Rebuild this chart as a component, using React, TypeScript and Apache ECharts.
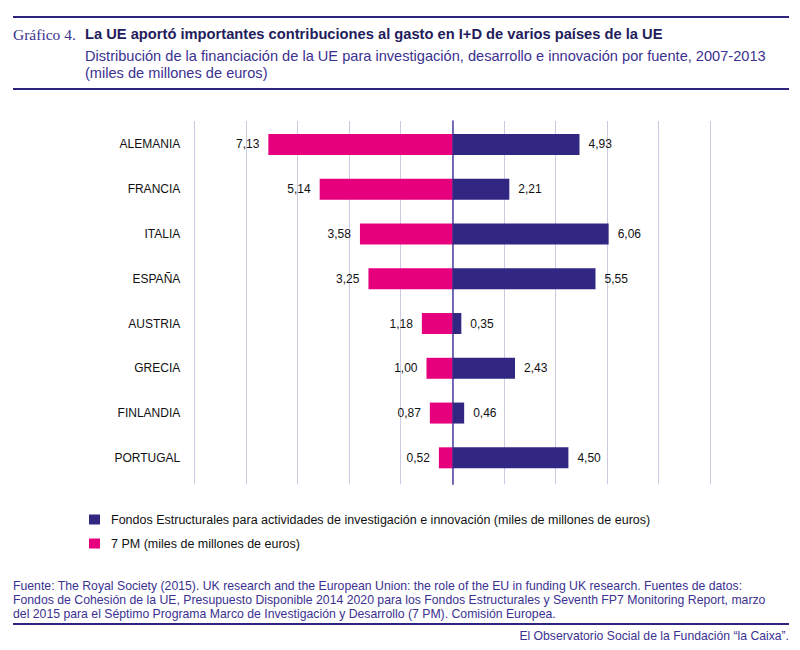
import { useEffect, useRef } from 'react';
import * as echarts from 'echarts';

const countries = ['ALEMANIA', 'FRANCIA', 'ITALIA', 'ESPAÑA', 'AUSTRIA', 'GRECIA', 'FINLANDIA', 'PORTUGAL'];
const fondosEstructurales = [4.93, 2.21, 6.06, 5.55, 0.35, 2.43, 0.46, 4.5];
const septimoPM = [7.13, 5.14, 3.58, 3.25, 1.18, 1.0, 0.87, 0.52];

const seriesNames = [
  'Fondos Estructurales para actividades de investigación e innovación (miles de millones de euros)',
  '7 PM (miles de millones de euros)',
];

const sourceLines = [
  'Fuente: The Royal Society (2015). UK research and the European Union: the role of the EU in funding UK research. Fuentes de datos:',
  'Fondos de Cohesión de la UE, Presupuesto Disponible 2014 2020 para los Fondos Estructurales y Seventh FP7 Monitoring Report, marzo',
  'del 2015 para el Séptimo Programa Marco de Investigación y Desarrollo (7 PM). Comisión Europea.',
];

const NAVY = '#312783';
const PINK = '#e6007e';
const INK = '#2e2580';
const FONT = "'Liberation Sans', Arial, sans-serif";

const fmt = (v: number) => Math.abs(v).toFixed(2).replace('.', ',');

export default function App() {
  const chartRef = useRef<HTMLDivElement>(null);

  useEffect(() => {
    if (!chartRef.current) return;
    const chart = echarts.init(chartRef.current, null, { renderer: 'svg' });

    const option: echarts.EChartsOption = {
      animation: false,
      backgroundColor: '#ffffff',
      textStyle: { fontFamily: FONT },
      grid: [
        { left: 194.3, right: 89.7, top: 122.1, height: 358.1 },
        { left: 194.3, right: 89.7, top: 121, height: 363.3 },
      ],
      xAxis: [
        { type: 'value', gridIndex: 0, min: -10, max: 10, interval: 2, show: false },
        {
          type: 'value',
          gridIndex: 1,
          min: -10,
          max: 10,
          interval: 2,
          axisLine: { show: false },
          axisTick: { show: false },
          axisLabel: { show: false },
          splitLine: { lineStyle: { color: '#cdc9e3', width: 1 } },
        },
      ],
      yAxis: [
        {
          type: 'category',
          gridIndex: 0,
          inverse: true,
          data: countries,
          axisLine: { show: false, onZero: false },
          axisTick: { show: false },
          axisLabel: { margin: 14, fontSize: 12, color: '#111111', fontFamily: FONT },
        },
        {
          type: 'value',
          gridIndex: 1,
          min: 0,
          max: 1,
          axisLine: { show: true, onZero: true, lineStyle: { color: '#4b40a0', width: 1.5 } },
          axisTick: { show: false },
          axisLabel: { show: false },
          splitLine: { show: false },
        },
      ],
      legend: {
        orient: 'vertical',
        left: 84,
        top: 507.5,
        itemWidth: 11,
        itemHeight: 10,
        itemGap: 10,
        icon: 'rect',
        selectedMode: false,
        data: seriesNames,
        textStyle: { fontSize: 12.5, color: '#111111', lineHeight: 14, padding: [0, 0, 0, 6], fontFamily: FONT },
      },
      series: [
        {
          name: seriesNames[0],
          type: 'bar',
          stack: 'total',
          xAxisIndex: 0,
          yAxisIndex: 0,
          barWidth: 21,
          data: fondosEstructurales,
          itemStyle: { color: NAVY },
          label: {
            show: true,
            position: 'right',
            distance: 9,
            fontSize: 12,
            color: '#111111',
            formatter: (p: any) => fmt(p.value),
          },
        },
        {
          name: seriesNames[1],
          type: 'bar',
          stack: 'total',
          xAxisIndex: 0,
          yAxisIndex: 0,
          barWidth: 21,
          data: septimoPM.map((v) => -v),
          itemStyle: { color: PINK },
          label: {
            show: true,
            position: 'left',
            distance: 9,
            fontSize: 12,
            color: '#111111',
            formatter: (p: any) => fmt(p.value),
          },
        },
      ],
      graphic: [
        { type: 'line', shape: { x1: 13, y1: 17, x2: 789, y2: 17 }, style: { stroke: INK, lineWidth: 2 } },
        { type: 'line', shape: { x1: 13, y1: 89, x2: 789, y2: 89 }, style: { stroke: INK, lineWidth: 2 } },
        { type: 'line', shape: { x1: 13, y1: 624, x2: 789, y2: 624 }, style: { stroke: INK, lineWidth: 2 } },
        {
          type: 'text',
          x: 13,
          y: 34,
          style: {
            text: 'Gráfico 4.',
            font: "15.5px 'Liberation Serif', 'Times New Roman', serif",
            fill: '#3b3190',
            verticalAlign: 'middle',
          },
        },
        {
          type: 'text',
          x: 85,
          y: 34,
          style: {
            text: 'La UE aportó importantes contribuciones al gasto en I+D de varios países de la UE',
            font: `bold 14.7px ${FONT}`,
            fill: '#231c5c',
            verticalAlign: 'middle',
          },
        },
        {
          type: 'text',
          x: 85,
          y: 56,
          style: {
            text: 'Distribución de la financiación de la UE para investigación, desarrollo e innovación por fuente, 2007-2013',
            font: `14.6px ${FONT}`,
            fill: '#3b3190',
            verticalAlign: 'middle',
          },
        },
        {
          type: 'text',
          x: 85,
          y: 73,
          style: {
            text: '(miles de millones de euros)',
            font: `14.6px ${FONT}`,
            fill: '#3b3190',
            verticalAlign: 'middle',
          },
        },
        ...sourceLines.map((line, i) => ({
          type: 'text' as const,
          x: 13,
          y: 586 + i * 13.8,
          style: {
            text: line,
            font: `12.25px ${FONT}`,
            fill: '#3b3190',
            verticalAlign: 'middle' as const,
          },
        })),
        {
          type: 'text',
          x: 789,
          y: 636,
          style: {
            text: 'El Observatorio Social de la Fundación “la Caixa”.',
            font: `12.2px ${FONT}`,
            fill: '#3b3190',
            align: 'right',
            verticalAlign: 'middle',
          },
        },
      ],
    };

    chart.setOption(option);
    return () => chart.dispose();
  }, []);

  return (
    <div
      ref={chartRef}
      style={{ position: 'absolute', left: 0, top: 0, width: '800px', height: '650px' }}
    />
  );
}
